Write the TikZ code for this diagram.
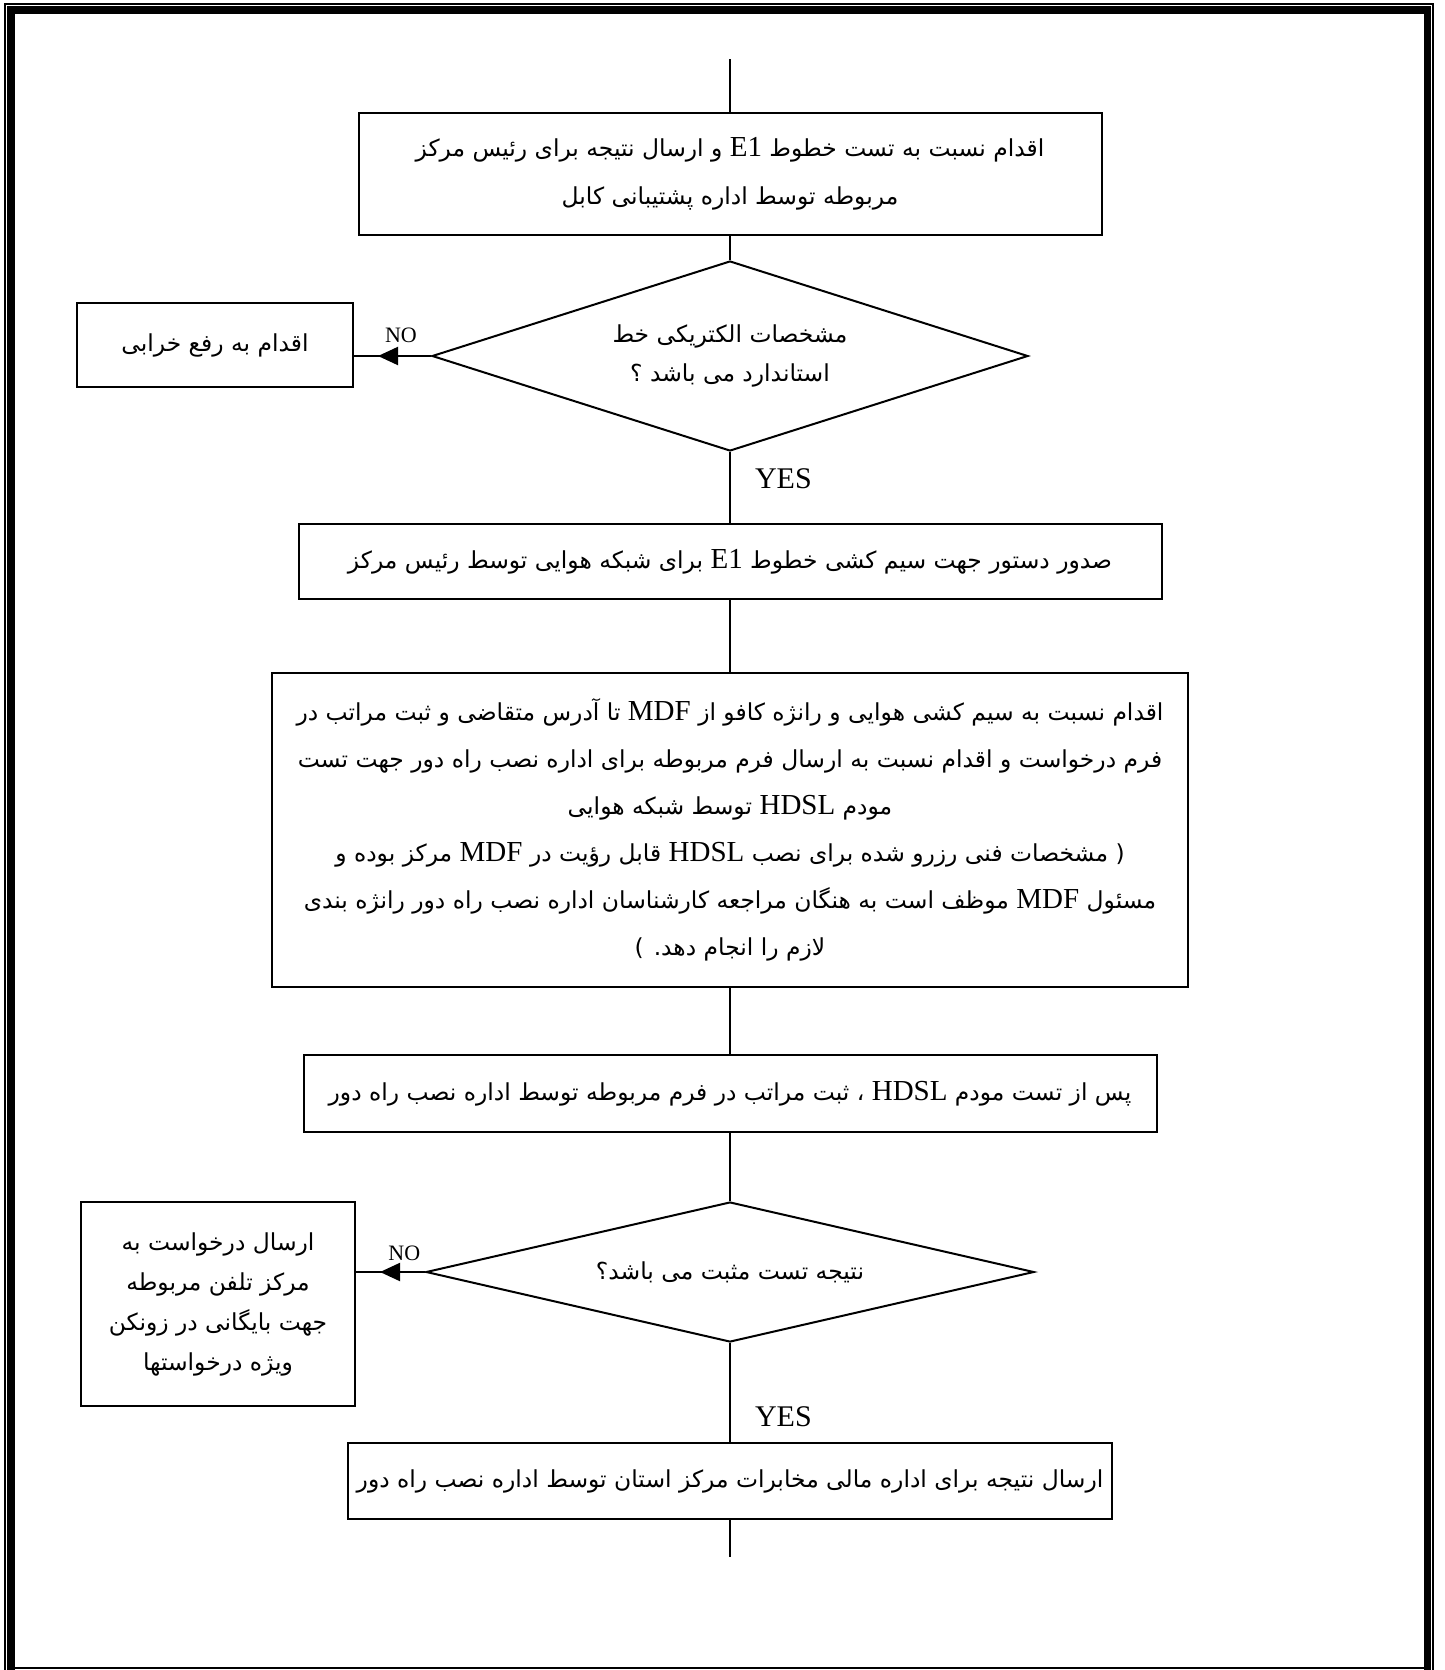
\documentclass[tikz,border=0pt]{standalone}
\usepackage{fontspec}
\setmainfont{Liberation Serif}
\newfontfamily\fafont[Script=Arabic]{DejaVu Sans}
\TeXXeTstate=1
\usetikzlibrary{arrows.meta}
\usetikzlibrary{shapes}
\usetikzlibrary{decorations.markings}

\newcommand{\faln}[1]{\beginR #1\endR}
\newcommand{\latn}[1]{\beginL{\rmfamily\fontsize{14.5}{14.5}\selectfont #1}\endL}

\begin{document}
\begin{tikzpicture}[x=0.5pt, y=-0.5pt, line width=1pt,
    stepbox/.style={draw, rectangle, inner sep=0pt, align=center,
        font=\fafont\fontsize{11.7}{24}\selectfont},
    decision/.style={draw, diamond, inner sep=0pt, align=center,
        font=\fafont\fontsize{11.7}{19.5}\selectfont},
    yeslbl/.style={font=\fontsize{15}{15}\selectfont, inner sep=0pt},
    nolbl/.style={font=\fontsize{11}{11}\selectfont, inner sep=0pt},
    noarrow/.style={postaction={decorate}, decoration={markings,
        mark=at position -12pt with {\arrow{Triangle[length=10pt, width=9pt]}}}}]

    \useasboundingbox (0,0) rectangle (1445,1670);

    % Page frame
    \draw[line width=1pt] (5,1680) -- (5,4) -- (1433.3,4) -- (1433.3,1680);
    \draw[line width=3.8pt] (11.2,1690) -- (11.2,10.2) -- (1427.4,10.2) -- (1427.4,1690);
    \draw[line width=1pt] (15,1668.3) -- (1423.7,1668.3);

    % Declare the steps
    \coordinate (T0) at (730,59);
    \node[stepbox, minimum width=371.5pt, minimum height=61pt] at (730,174) (B1)
        {\faln{اقدام نسبت به تست خطوط \latn{E1} و ارسال نتیجه برای رئیس مرکز}\\
         \faln{مربوطه توسط اداره پشتیبانی کابل}};
    \node[decision, aspect=3.14, minimum width=298pt, minimum height=95pt] at (730,356) (D1)
        {\faln{مشخصات الکتریکی خط}\\ \faln{استاندارد می باشد ؟}};
    \node[stepbox, minimum width=138pt, minimum height=42pt] at (215,345) (N1)
        {\faln{اقدام به رفع خرابی}};
    \node[stepbox, minimum width=431.5pt, minimum height=37.5pt] at (730,561.5) (B3)
        {\faln{صدور دستور جهت سیم کشی خطوط \latn{E1} برای شبکه هوایی توسط رئیس مرکز}};
    \node[stepbox, minimum width=458pt, minimum height=157pt,
        font=\fafont\fontsize{11.7}{23.5}\selectfont] at (730,830) (B4)
        {\faln{اقدام نسبت به سیم کشی هوایی و رانژه کافو از \latn{MDF} تا آدرس متقاضی و ثبت مراتب در}\\
         \faln{فرم درخواست و اقدام نسبت به ارسال فرم مربوطه برای اداره نصب راه دور جهت تست}\\
         \faln{مودم \latn{HDSL} توسط شبکه هوایی}\\
         \faln{( مشخصات فنی رزرو شده برای نصب \latn{HDSL} قابل رؤیت در \latn{MDF} مرکز بوده و}\\
         \faln{مسئول \latn{MDF} موظف است به هنگان مراجعه کارشناسان اداره نصب راه دور رانژه بندی}\\
         \faln{لازم را انجام دهد. )}};
    \node[stepbox, minimum width=426.5pt, minimum height=38.5pt] at (730,1093.5) (B5)
        {\faln{پس از تست مودم \latn{HDSL} ، ثبت مراتب در فرم مربوطه توسط اداره نصب راه دور}};
    \node[decision, aspect=4.34, minimum width=304pt, minimum height=70pt] at (730,1272) (D2)
        {\faln{نتیجه تست مثبت می باشد؟}};
    \node[stepbox, minimum width=137pt, minimum height=102pt,
        font=\fafont\fontsize{11.7}{20}\selectfont] at (218,1304) (N2)
        {\faln{ارسال درخواست به}\\ \faln{مرکز تلفن مربوطه}\\
         \faln{جهت بایگانی در زونکن}\\ \faln{ویژه درخواستها}};
    \node[stepbox, minimum width=382pt, minimum height=38pt] at (730,1481) (B6)
        {\faln{ارسال نتیجه برای اداره مالی مخابرات مرکز استان توسط اداره نصب راه دور}};
    \coordinate (E0) at (730,1557);

    % Declare edges
    \draw (T0) -- (B1);
    \draw (B1) -- (D1);
    \draw[noarrow] (D1.west) -- (D1.west -| N1.east) node[nolbl, pos=0.39, above=6pt] {NO};
    \draw (D1) -- (B3) node[yeslbl, pos=0.37, right=12pt] {YES};
    \draw (B3) -- (B4);
    \draw (B4) -- (B5);
    \draw (B5) -- (D2);
    \draw[noarrow] (D2.west) -- (D2.west -| N2.east) node[nolbl, pos=0.30, above=5pt] {NO};
    \draw (D2) -- (B6) node[yeslbl, pos=0.74, right=12pt] {YES};
    \draw (B6) -- (E0);

\end{tikzpicture}
\end{document}
